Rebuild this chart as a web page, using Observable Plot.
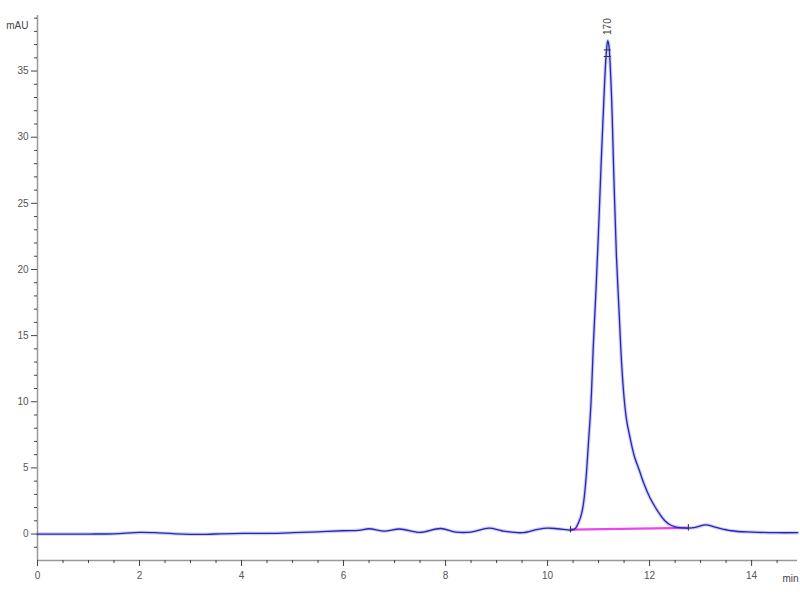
<!DOCTYPE html>
<html><head><meta charset="utf-8">
<script src="https://cdn.jsdelivr.net/npm/d3@7"></script>
<script src="https://cdn.jsdelivr.net/npm/@observablehq/plot@0.6"></script>
<style>body{margin:0;background:#fff}svg{display:block}</style>
</head><body><div id="chart"></div>
<script>
// Retention time (min) and absorbance (mAU)
const times = [0,0.5,1.0,1.5,2.0,2.3,2.7,3.3,3.6,4.0,4.5,5.0,5.5,6.0,6.3,6.5,6.8,7.1,7.5,7.9,8.2,8.5,8.85,9.1,9.5,9.8,10.0,10.2,10.45,
  10.5,10.55,10.6,10.65,10.7,10.75,10.8,10.85,10.9,10.95,11.0,11.05,11.1,11.15,11.18,11.2,11.25,11.3,11.35,11.4,11.45,11.5,11.55,11.6,11.7,11.8,11.9,12.0,12.1,12.2,12.3,12.4,12.5,12.6,12.75,12.9,13.1,13.3,13.6,14.0,14.5,14.9];
const signal = [0,0,0,0.02,0.12,0.1,0.02,-0.02,0.02,0.05,0.05,0.1,0.17,0.25,0.28,0.4,0.22,0.38,0.12,0.42,0.15,0.15,0.45,0.25,0.1,0.35,0.45,0.4,0.3,
  0.33,0.45,0.8,1.3,2.2,4.0,6.8,9.8,14.5,18.5,23,28,32.5,36.3,37.3,37.0,33.5,27,21,17,13,10.3,8.6,7.6,5.9,4.8,3.7,2.8,2.1,1.5,1.0,0.7,0.55,0.48,0.45,0.5,0.7,0.5,0.25,0.15,0.1,0.1];
const baselineTimes = [10.45, 12.76];
const baselineValues = [0.33, 0.47];
const peakTime = [11.18];
const peakHeight = [37.3];
const peakLabels = ["170"];
const xMajor = [0,2,4,6,8,10,12,14];
const yMajor = [0,5,10,15,20,25,30,35];
const unitLabels = ["mAU","min"];

const data = times.map((t,i)=>({t, v: signal[i]}));
const base = baselineTimes.map((t,i)=>({t, v: baselineValues[i]}));
const peak = peakTime.map((t,i)=>({t, v: peakHeight[i], label: peakLabels[i]}));
const xMinor = d3.range(0, 15, 0.5).filter(v => !xMajor.includes(v));
const yMinor = d3.range(-1, 40, 1).filter(v => !yMajor.includes(v));
const font = "Liberation Sans, Arial, sans-serif";

const chart = Plot.plot({
  width: 800, height: 600,
  marginLeft: 37, marginRight: 3, marginTop: 15, marginBottom: 40,
  style: {fontFamily: font, fontSize: "10px", color: "#555", background: "#fff"},
  x: {domain: [0, 14.9]},
  y: {domain: [-2, 39.2]},
  marks: [
    Plot.ruleX([0], {stroke: "#999", strokeWidth: 1.5}),
    Plot.ruleY([-2], {stroke: "#999", strokeWidth: 1.5}),
    Plot.axisX({ticks: xMinor, tickSize: 3, tickFormat: () => "", stroke: "#444", label: null}),
    Plot.axisX({ticks: xMajor, tickSize: 6, tickPadding: 5, stroke: "#444", fill: "#555", label: null}),
    Plot.axisY({ticks: yMinor, tickSize: 3, tickFormat: () => "", stroke: "#444", label: null}),
    Plot.axisY({ticks: yMajor, tickSize: 6, tickPadding: 3, stroke: "#444", fill: "#555", label: null}),
    Plot.line(base, {x: "t", y: "v", stroke: "#ee44ee", strokeWidth: 2.2}),
    Plot.line(data, {x: "t", y: "v", stroke: "#3b3bd0", strokeWidth: 3.5, strokeOpacity: 0.25, curve: "catmull-rom"}),
    Plot.line(data, {x: "t", y: "v", stroke: "#2626b8", strokeWidth: 1.3, curve: "catmull-rom"}),
    Plot.ruleY(peak, {x1: d => d.t - 0.07, x2: d => d.t + 0.07, y: d => d.v - 0.7, stroke: "#333", strokeWidth: 1}),
    Plot.ruleY(peak, {x1: d => d.t - 0.07, x2: d => d.t + 0.07, y: d => d.v - 1.2, stroke: "#333", strokeWidth: 1}),
    Plot.ruleX(base, {x: "t", y1: d => d.v - 0.25, y2: d => d.v + 0.25, stroke: "#333", strokeWidth: 1}),
    Plot.text(peak, {x: "t", y: "v", text: "label", rotate: -90, dy: -14, fill: "#444", fontSize: 10}),
    Plot.text([unitLabels[0]], {x: 0, y: 38.4, text: d => d, dx: -9, textAnchor: "end", fill: "#444", fontSize: 10}),
    Plot.text([unitLabels[1]], {x: 14.9, y: -2, text: d => d, dx: -15, dy: 18, textAnchor: "start", fill: "#444", fontSize: 10})
  ]
});
document.getElementById("chart").appendChild(chart);
</script></body></html>
